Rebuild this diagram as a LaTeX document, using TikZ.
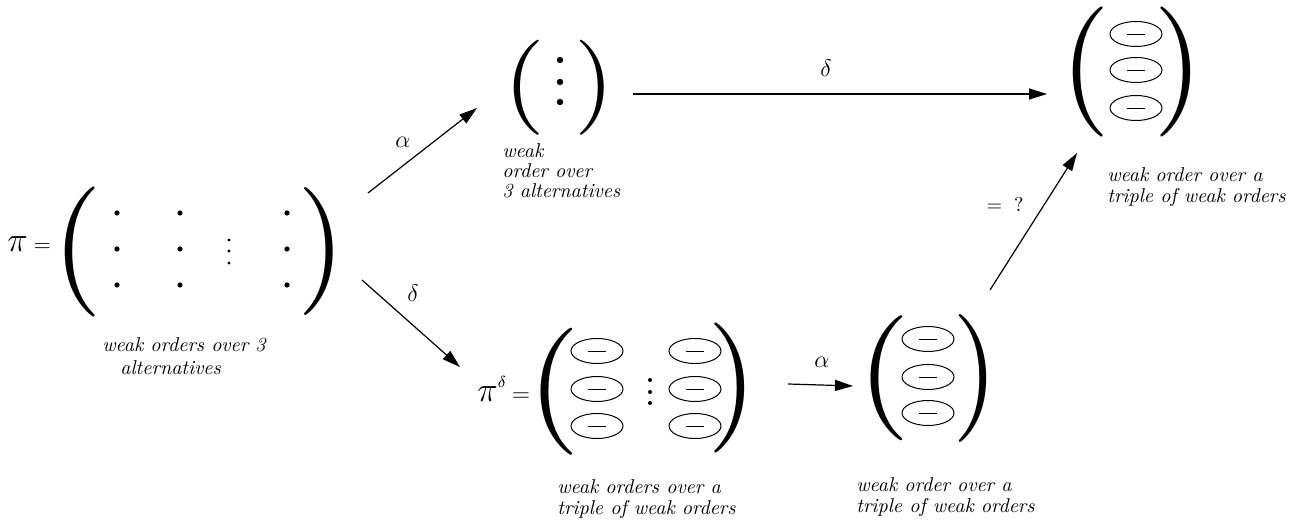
\documentclass[tikz,border=0pt]{standalone}
\usepackage{graphicx}
\usetikzlibrary{arrows.meta,shapes.geometric}
\newcommand{\Lpar}[2]{\resizebox*{#1}{#2}{(}}
\newcommand{\Rpar}[2]{\resizebox*{#1}{#2}{)}}
\begin{document}
\begin{tikzpicture}[x=0.5pt,y=-0.5pt,
  par/.style={inner sep=0pt, outer sep=0pt},
  lbl/.style={anchor=base west, inner sep=0pt},
  wo/.style={ellipse, draw, line width=0.5pt, minimum width=26pt, minimum height=12.5pt, inner sep=0pt},
  arr/.style={line width=0.6pt, -{Triangle[length=9pt,width=5.5pt]}},
  gl/.style={font=\fontsize{13}{15}\selectfont, inner sep=0pt}]
\useasboundingbox (0,0) rectangle (1301,522);

% ---------- pi matrix ----------
\node[lbl] (pieq) at (7,252) {{\fontsize{16.5}{18}\selectfont$\pi$}\hspace{3pt}{\fontsize{11}{13}\selectfont$=$}};
\node[par] (piL) at (78,252) {\Lpar{25pt}{65pt}};
\node[par] (piR) at (322,251) {\Rpar{24pt}{64pt}};
\foreach \x in {117,180,287}{\foreach \y in {213,249,285}{\fill (\x,\y) circle (1.3pt);}}
\foreach \y in {240,251,263}{\fill (229,\y) circle (0.8pt);}
\node[lbl] (lpi) at (102,352) {\fontsize{10}{11.5}\selectfont\itshape\begin{tabular}[t]{@{}l@{}}weak orders over 3\\\hspace*{9pt}alternatives\end{tabular}};

% ---------- top middle ----------
\node[par] (tmL) at (525,88) {\Lpar{21pt}{47.5pt}};
\node[par] (tmR) at (595,88) {\Rpar{20pt}{47.5pt}};
\foreach \y in {60,82,102}{\fill (560,\y) circle (1.6pt);}
\node[lbl] (ltm) at (502,158) {\fontsize{10}{9.75}\selectfont\itshape\begin{tabular}[t]{@{}l@{}}weak\\order over\\3 alternatives\end{tabular}};

% ---------- top right ----------
\node[par] (trL) at (1085,72) {\Lpar{25pt}{65pt}};
\node[par] (trR) at (1178,72) {\Rpar{25pt}{65pt}};
\foreach \y/\n in {34/1,70/2,108/3}{\node[wo] (tre\n) at (1136,\y) {\rule{9pt}{0.45pt}};}
\node[lbl] (ltr) at (1107,182) {\fontsize{10}{10}\selectfont\itshape\begin{tabular}[t]{@{}l@{}}weak order over a\\triple of weak orders\end{tabular}};

% ---------- bottom middle ----------
\node[lbl] (pid) at (477,402) {{\fontsize{17}{20}\selectfont$\pi$}\raisebox{7pt}{\fontsize{8.5}{10}\selectfont$\delta$}\hspace{3pt}{\fontsize{11.5}{13}\selectfont$=$}};
\node[par] (bmL) at (554,392) {\Lpar{26.5pt}{63.5pt}};
\node[par] (bmR) at (732,388) {\Rpar{25pt}{65pt}};
\foreach \y/\n in {351/1,389/2,426/3}{
  \node[wo] (bma\n) at (597,\y) {\rule{9pt}{0.45pt}};
  \node[wo] (bmb\n) at (695,\y) {\rule{9pt}{0.45pt}};}
\foreach \y in {380,392,403}{\fill (650,\y) circle (1pt);}
\node[lbl] (lbm) at (557,494) {\fontsize{10}{10.5}\selectfont\itshape\begin{tabular}[t]{@{}l@{}}weak orders over a\\triple of weak orders\end{tabular}};

% ---------- bottom right ----------
\node[par] (brL) at (884,378) {\Lpar{26.5pt}{62.5pt}};
\node[par] (brR) at (975,378) {\Rpar{23pt}{64pt}};
\foreach \y/\n in {339/1,377/2,413/3}{\node[wo] (bre\n) at (928,\y) {\rule{9pt}{0.45pt}};}
\node[lbl] (lbr) at (856,492) {\fontsize{10}{10}\selectfont\itshape\begin{tabular}[t]{@{}l@{}}weak order over a\\triple of weak orders\end{tabular}};

% ---------- arrows ----------
\coordinate (a1s) at (368,193); \coordinate (a1e) at (477,108);
\coordinate (a2s) at (362,280); \coordinate (a2e) at (460,367);
\coordinate (a3s) at (633,94);  \coordinate (a3e) at (1047,94);
\coordinate (a4s) at (788,384); \coordinate (a4e) at (853,386);
\coordinate (a5s) at (990,290); \coordinate (a5e) at (1077,153);
\draw[arr] (a1s) -- (a1e);
\draw[arr] (a2s) -- (a2e);
\draw[arr] (a3s) -- (a3e);
\draw[arr] (a4s) -- (a4e);
\draw[arr] (a5s) -- (a5e);
\node[gl] (alpha1) at (403,142) {$\alpha$};
\node[gl] (delta1) at (413,293) {$\delta$};
\node[gl] (delta2) at (826,68) {$\delta$};
\node[gl] (alpha2) at (822,362) {$\alpha$};
\node[inner sep=0pt, font=\fontsize{10}{12}\selectfont] (eq) at (1005,204) {$=$\hspace{6pt}?};
\end{tikzpicture}
\end{document}
